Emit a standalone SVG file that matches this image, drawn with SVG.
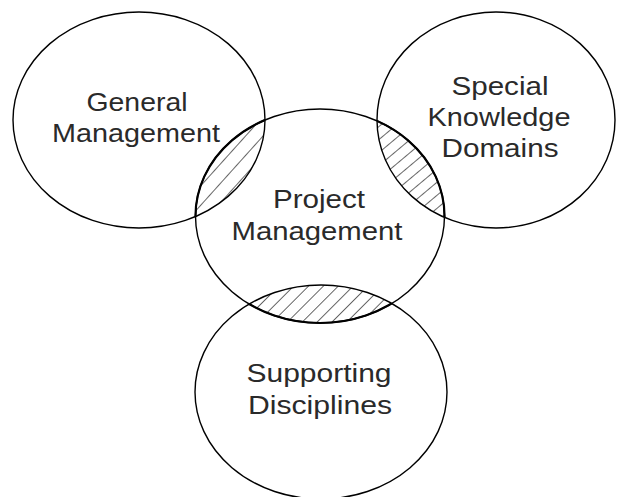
<svg xmlns="http://www.w3.org/2000/svg" width="617" height="497" viewBox="0 0 617 497">
<style>
.c{fill:none;stroke:#000;stroke-width:1.4}
.t{font-family:"Liberation Sans",Arial,sans-serif;font-size:26px;fill:#2a2a2a;text-anchor:middle}
.h{stroke:#000;stroke-width:1.2}
.le{fill:none;stroke:#000;stroke-width:2.2}
</style>
<defs>
<pattern id="hatch" patternUnits="userSpaceOnUse" width="10.5" height="10.5" patternTransform="rotate(45)">
<line class="h" x1="0" y1="0" x2="0" y2="10.5"/>
</pattern>
<pattern id="hatch3" patternUnits="userSpaceOnUse" width="10" height="10" patternTransform="rotate(50)">
<line class="h" x1="0" y1="0" x2="0" y2="10"/>
</pattern>
<pattern id="hatch2" patternUnits="userSpaceOnUse" width="13" height="13" patternTransform="rotate(42)">
<line class="h" x1="0" y1="0" x2="0" y2="13"/>
</pattern>
<clipPath id="cGM"><ellipse cx="139" cy="120" rx="126" ry="108"/></clipPath>
<clipPath id="cSK"><ellipse cx="496" cy="120" rx="119" ry="108"/></clipPath>
<clipPath id="cSD"><ellipse cx="321" cy="392" rx="126" ry="107"/></clipPath>
</defs>
<g id="overlaps">
<ellipse cx="320" cy="216" rx="124.5" ry="107" fill="url(#hatch2)" clip-path="url(#cGM)"/>
<ellipse cx="320" cy="216" rx="124.5" ry="107" fill="url(#hatch3)" clip-path="url(#cSK)"/>
<ellipse cx="320" cy="216" rx="124.5" ry="107" fill="url(#hatch)" clip-path="url(#cSD)"/>
<ellipse class="le" cx="320" cy="216" rx="124.5" ry="107" clip-path="url(#cGM)"/>
<ellipse class="le" cx="320" cy="216" rx="124.5" ry="107" clip-path="url(#cSK)"/>
<ellipse class="le" cx="320" cy="216" rx="124.5" ry="107" clip-path="url(#cSD)"/>
</g>
<g id="general-management">
<ellipse class="c" cx="139" cy="120" rx="126" ry="108"/>
<text class="t" x="137" y="111" textLength="101" lengthAdjust="spacingAndGlyphs">General</text>
<text class="t" x="136" y="142" textLength="168" lengthAdjust="spacingAndGlyphs">Management</text>
</g>
<g id="special-knowledge-domains">
<ellipse class="c" cx="496" cy="120" rx="119" ry="108"/>
<text class="t" x="500" y="95" textLength="97" lengthAdjust="spacingAndGlyphs">Special</text>
<text class="t" x="499" y="126" textLength="143" lengthAdjust="spacingAndGlyphs">Knowledge</text>
<text class="t" x="500" y="157" textLength="117" lengthAdjust="spacingAndGlyphs">Domains</text>
</g>
<g id="project-management">
<ellipse class="c" cx="320" cy="216" rx="124.5" ry="107"/>
<text class="t" x="319" y="208" textLength="92" lengthAdjust="spacingAndGlyphs">Project</text>
<text class="t" x="317" y="240" textLength="171" lengthAdjust="spacingAndGlyphs">Management</text>
</g>
<g id="supporting-disciplines">
<ellipse class="c" cx="321" cy="392" rx="126" ry="107"/>
<text class="t" x="319" y="382" textLength="145" lengthAdjust="spacingAndGlyphs">Supporting</text>
<text class="t" x="320" y="414" textLength="144" lengthAdjust="spacingAndGlyphs">Disciplines</text>
</g>
</svg>
